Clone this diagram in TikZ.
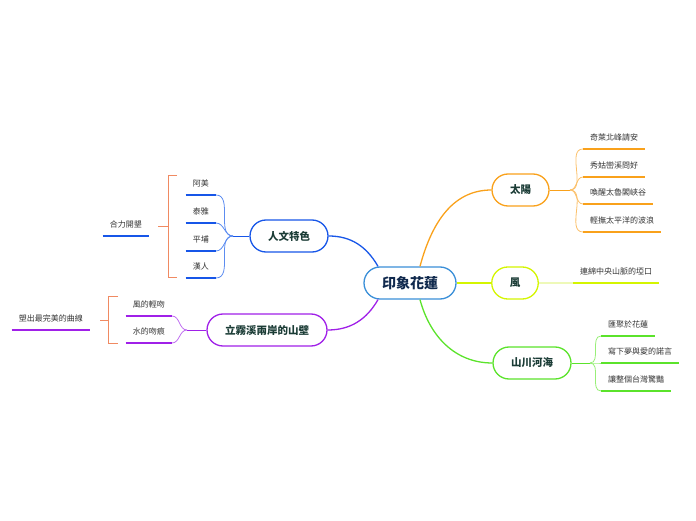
\documentclass[tikz,border=0pt]{standalone}
\usepackage{fontspec}
\newfontfamily\cjk{Noto Sans CJK TC}
\usetikzlibrary{positioning}
\definecolor{CoreBlue}{HTML}{3A8FD8}
\definecolor{CoreInk}{HTML}{10294D}
\definecolor{TopicInk}{HTML}{1B3C36}
\definecolor{LeafInk}{HTML}{333333}
\definecolor{SunOrange}{HTML}{F9A11B}
\definecolor{SunSoft}{HTML}{FBC06A}
\definecolor{WindLime}{HTML}{D4F500}
\definecolor{WindSoft}{HTML}{EEF9B8}
\definecolor{LandGreen}{HTML}{5BE32B}
\definecolor{LandSoft}{HTML}{98EF78}
\definecolor{FolkBlue}{HTML}{1756E8}
\definecolor{FolkSoft}{HTML}{5C8CF0}
\definecolor{CliffPurple}{HTML}{A020E8}
\definecolor{CliffSoft}{HTML}{C070F0}
\definecolor{BraceSalmon}{HTML}{F08A62}
\tikzset{
  topic/.style={rectangle,rounded corners=16pt,draw,line width=1.3pt,fill=white,
                minimum height=32pt,inner xsep=18pt,text=TopicInk,
                font=\cjk\bfseries\fontsize{10.5}{12}\selectfont},
  leaf/.style={inner xsep=7pt,inner ysep=0pt,minimum height=22pt,
               text height=6.5pt,text depth=1.5pt,text=LeafInk,
               font=\cjk\fontsize{8}{9}\selectfont},
  trunk/.style={line width=1.3pt},
  twig/.style={line width=0.8pt},
  uline/.style={line width=1.8pt},
  brace/.style={line width=1pt,BraceSalmon}
}
\begin{document}
\begin{tikzpicture}[x=1pt,y=1pt]
  \useasboundingbox (0,0) rectangle (696,520);
  % main topics
  \node[topic,draw=CoreBlue,text=CoreInk,font=\cjk\bfseries\fontsize{14}{16}\selectfont] (core) at (410,237) {印象花蓮};
  \node[topic,draw=SunOrange] (sun) at (520.5,330) {太陽};
  \node[topic,draw=WindLime] (wind) at (515,237) {風};
  \node[topic,draw=LandGreen] (land) at (532,157) {山川河海};
  \node[topic,draw=FolkBlue] (folk) at (289,284) {人文特色};
  \node[topic,draw=CliffPurple] (cliff) at (267,190) {立霧溪兩岸的山壁};

  \draw[trunk,SunOrange] ([xshift=10pt]core.north) to[out=75,in=180] (sun.west);
  \draw[trunk,WindLime] (core.east) -- (wind.west);
  \draw[trunk,LandGreen] ([xshift=10pt]core.south) to[out=-75,in=180] (land.west);
  \draw[trunk,FolkBlue] ([xshift=-32pt]core.north) to[out=120,in=0] (folk.east);
  \draw[trunk,CliffPurple] ([xshift=-32pt]core.south) to[out=-120,in=0] (cliff.east);

  % sun
  \coordinate (sunfork) at (570,330);
  \node[leaf,anchor=south west] (s1) at (583,371) {奇萊北峰請安};
  \node[leaf,anchor=south west] (s2) at (583,343) {秀姑巒溪問好};
  \node[leaf,anchor=south west] (s3) at (583,316) {喚醒太魯閣峽谷};
  \node[leaf,anchor=south west] (s4) at (583,288) {輕撫太平洋的波浪};
  \draw[twig,SunOrange] (sun.east) -- (sunfork);
  \foreach \n in {s1,s2,s3,s4} {
    \draw[twig,SunSoft] (sunfork) to[out=0,in=180] (\n.south west);
    \draw[uline,SunOrange] (\n.south west) -- (\n.south east);
  }

  % wind
  \node[leaf,anchor=south west] (w1) at (573,237) {連綿中央山脈的埡口};
  \draw[uline,WindSoft] (wind.east) -- (w1.south west);
  \draw[uline,WindLime] (w1.south west) -- (w1.south east);

  % land
  \coordinate (landfork) at (590,157);
  \node[leaf,anchor=south west] (l1) at (601,184) {匯聚於花蓮};
  \node[leaf,anchor=south west] (l2) at (601,157) {寫下夢與愛的諾言};
  \node[leaf,anchor=south west] (l3) at (601,129) {讓整個台灣驚豔};
  \draw[twig,LandGreen] (land.east) -- (landfork);
  \foreach \n in {l1,l2,l3} {
    \draw[twig,LandSoft] (landfork) to[out=0,in=180] (\n.south west);
    \draw[uline,LandGreen] (\n.south west) -- (\n.south east);
  }

  % folk
  \coordinate (folkfork) at (233,284);
  \node[leaf,anchor=south east] (f1) at (216,325) {阿美};
  \node[leaf,anchor=south east] (f2) at (216,297) {泰雅};
  \node[leaf,anchor=south east] (f3) at (216,269) {平埔};
  \node[leaf,anchor=south east] (f4) at (216,242) {漢人};
  \draw[twig,FolkBlue] (folk.west) -- (folkfork);
  \foreach \n in {f1,f2,f3,f4} {
    \draw[twig,FolkSoft] (folkfork) to[out=180,in=0] (\n.south east);
    \draw[uline,FolkBlue] (\n.south west) -- (\n.south east);
  }
  \draw[brace] (177,344) -- (168,344) -- (168,242) -- (177,242);
  \coordinate (folkbrace) at (168,293);
  \node[leaf,anchor=south east] (fsum) at (149,284) {合力開墾};
  \draw[brace] (folkbrace) -- ++(-10,0);
  \draw[uline,FolkBlue] (fsum.south west) -- (fsum.south east);

  % cliff
  \coordinate (clifffork) at (187,190);
  \node[leaf,anchor=south east] (c1) at (172,204) {風的輕吻};
  \node[leaf,anchor=south east] (c2) at (172,177) {水的吻痕};
  \draw[twig,CliffPurple] (cliff.west) -- (clifffork);
  \foreach \n in {c1,c2} {
    \draw[twig,CliffSoft] (clifffork) to[out=180,in=0] (\n.south east);
    \draw[uline,CliffPurple] (\n.south west) -- (\n.south east);
  }
  \draw[brace] (118,223) -- (108,223) -- (108,177) -- (118,177);
  \coordinate (cliffbrace) at (108,200);
  \node[leaf,anchor=south east] (csum) at (90,190) {塑出最完美的曲線};
  \draw[brace] (cliffbrace) -- ++(-8,0);
  \draw[uline,CliffPurple] (csum.south west) -- (csum.south east);
\end{tikzpicture}
\end{document}
